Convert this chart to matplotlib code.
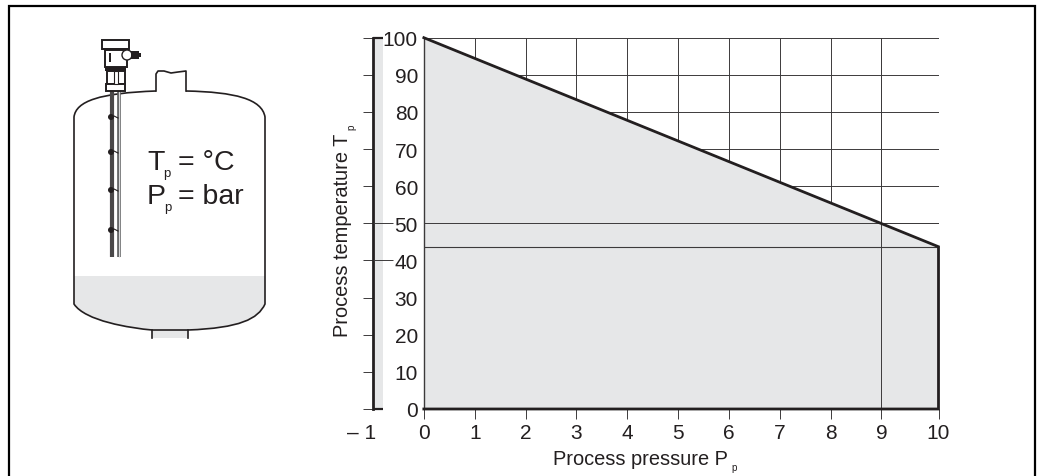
#!/usr/bin/env python
# -*- coding: utf-8 -*-

import matplotlib
matplotlib.use('Agg')
import matplotlib.pyplot as plt
from matplotlib.patches import PathPatch, Rectangle, Circle
from matplotlib.path import Path
from matplotlib.transforms import ScaledTranslation
import numpy as np

plt.rcParams['font.family'] = ['Liberation Sans', 'DejaVu Sans']

W, H = 1047, 477
DARK = '#231f20'
THIN = '#3c3a3b'
GREY = '#e6e7e8'

''' Chart values '''
pressure_ticks = [-1, 0, 1, 2, 3, 4, 5, 6, 7, 8, 9, 10]
pressure_labels = ['\u2013 1', '0', '1', '2', '3', '4', '5', '6', '7', '8', '9', '10']
temp_ticks = [0, 10, 20, 30, 40, 50, 60, 70, 80, 90, 100]
limit_p = [0, 10]
limit_t = [100, 43.7]
example_p = 9
example_t = 50

fig = plt.figure(figsize=(W / 100, H / 100), dpi=100)

''' Illustration layer in pixel coordinates '''
bg = fig.add_axes([0, 0, 1, 1])
bg.set_xlim(0, W)
bg.set_ylim(H, 0)
bg.axis('off')

bg.plot([9, 9, 1035, 1035], [H, 7, 7, H], color='black', lw=1.6, solid_joinstyle='miter')

# liquid
liq = [(74, 277), (265, 277), (265, 305), (258, 320), (240, 329), (188, 331),
       (152, 331), (130, 329), (85, 322), (74, 305), (74, 277)]
liq_codes = [Path.MOVETO, Path.LINETO, Path.LINETO, Path.CURVE4, Path.CURVE4, Path.CURVE4,
             Path.LINETO, Path.CURVE4, Path.CURVE4, Path.CURVE4, Path.CLOSEPOLY]
bg.add_patch(PathPatch(Path(liq, liq_codes), fc=GREY, ec='none'))
bg.add_patch(Rectangle((152, 331), 36, 8, fc=GREY, ec='none'))

# tank outline
tank = [(186, 92), (235, 93), (262, 100), (265, 118), (265, 305), (258, 320), (240, 329), (188, 331),
        (152, 331), (130, 329), (85, 322), (74, 305), (74, 118), (76, 102), (100, 94), (156, 92)]
tank_codes = [Path.MOVETO, Path.CURVE4, Path.CURVE4, Path.CURVE4, Path.LINETO, Path.CURVE4, Path.CURVE4, Path.CURVE4,
              Path.LINETO, Path.CURVE4, Path.CURVE4, Path.CURVE4, Path.LINETO, Path.CURVE4, Path.CURVE4, Path.CURVE4]
bg.add_patch(PathPatch(Path(tank, tank_codes), fc='none', ec=DARK, lw=1.2))
bg.plot([152, 152], [331, 339], color=DARK, lw=1.2)
bg.plot([188, 188], [331, 339], color=DARK, lw=1.2)

# top nozzle with broken edge
nozzle = [(156, 92), (156, 75), (158, 72), (164, 72), (171, 74), (178, 73), (186, 72), (186, 92)]
bg.plot(*zip(*nozzle), color=DARK, lw=1.2)

# instrument head
bg.add_patch(Rectangle((102, 41), 27, 9, fc='white', ec=DARK, lw=1.4, zorder=3))
bg.add_patch(Rectangle((102, 49), 27, 2, fc=DARK, ec='none', zorder=4))
bg.add_patch(Rectangle((105, 51), 22, 17, fc='white', ec=DARK, lw=1.4, zorder=3))
bg.add_patch(Rectangle((109, 54), 2, 9, fc=DARK, ec='none', zorder=4))
bg.add_patch(Rectangle((105, 68), 21, 4, fc=DARK, ec='none', zorder=3))
bg.add_patch(Rectangle((107, 72), 18, 13, fc='white', ec=DARK, lw=1.4, zorder=3))
bg.add_patch(Rectangle((114, 72), 4, 13, fc='white', ec=DARK, lw=0.8, zorder=4))
bg.add_patch(Rectangle((106, 85), 19, 7, fc='white', ec=DARK, lw=1.4, zorder=3))
bg.add_patch(Circle((127, 56), 5, fc='white', ec=DARK, lw=1.0, zorder=4))
bg.add_patch(Rectangle((131, 52), 8, 8, fc=DARK, ec='none', zorder=4))
bg.add_patch(Rectangle((138, 54), 3, 4, fc=DARK, ec='none', zorder=4))

# probe rods
bg.plot([112, 112], [92, 258], color='#4a4849', lw=3.0, solid_capstyle='butt')
bg.plot([119, 119], [92, 258], color='#58595b', lw=2.6, solid_capstyle='butt')
bg.plot([119, 119], [92, 258], color='#d8d9da', lw=0.9, solid_capstyle='butt')
for wy in [118, 153, 191, 231]:
    bg.add_patch(Circle((111, wy), 3, fc=DARK, ec='none', zorder=4))
    bg.plot([114, 118], [wy - 1, wy + 1], color=DARK, lw=0.8)

# tank captions
bg.text(147, 170, 'T', fontsize=20.5, color=DARK, ha='left', va='baseline')
bg.text(163, 177, 'p', fontsize=9.5, color=DARK, ha='left', va='baseline')
bg.text(178, 170, '= \u00b0C', fontsize=20.5, color=DARK, ha='left', va='baseline')
bg.text(147, 204, 'P', fontsize=20.5, color=DARK, ha='left', va='baseline')
bg.text(164, 211, 'p', fontsize=9.5, color=DARK, ha='left', va='baseline')
bg.text(178, 204, '= bar', fontsize=20.5, color=DARK, ha='left', va='baseline')

''' Diagram '''
x0, x1, y0, y1 = 373, 938.5, 410, 38.7
ax = fig.add_axes([x0 / W, 1 - y0 / H, (x1 - x0) / W, (y0 - y1) / H])
ax.patch.set_alpha(0)

# last interval of the printed scale is wider than the others
stretch = 57 / 50.8
ax.set_xscale('function', functions=(
    lambda v: np.where(np.asarray(v) <= 9, v, 9 + (np.asarray(v) - 9) * stretch),
    lambda v: np.where(np.asarray(v) <= 9, v, 9 + (np.asarray(v) - 9) / stretch)))
ax.set_xlim(-1, 10)
ax.set_ylim(0, 100)

for s in ['top', 'right', 'bottom']:
    ax.spines[s].set_visible(False)
ax.spines['left'].set_linewidth(2.0)
ax.spines['left'].set_color(DARK)

# grid, only the upper part stays visible
ax.hlines(temp_ticks, 0, 10, color=THIN, lw=0.7, zorder=1)
ax.vlines(pressure_ticks[1:], 0, 100, color=THIN, lw=0.7, zorder=1)

ax.fill_between(limit_p, limit_t, 0, color=GREY, lw=0, zorder=2)
ax.axvspan(-1, -0.8, color=GREY, lw=0, zorder=1)

ax.hlines([example_t], 0, 10, color=THIN, lw=0.7, zorder=3)
ax.hlines([limit_t[1]], 0, 10, color=THIN, lw=0.8, zorder=3)
ax.vlines([example_p], 0, 100, color=THIN, lw=0.7, zorder=3)
ax.vlines([0], 0, 100, color=THIN, lw=1.0, zorder=3)
ax.hlines([40, 50], -1, -0.61, color=THIN, lw=0.7, zorder=3)

# limit outline
ax.plot(limit_p + [10, 0], limit_t + [0, 0], color=DARK, lw=2.0, zorder=4, clip_on=False,
        solid_joinstyle='miter')
ax.hlines([0, 100], -1, -0.8, color=DARK, lw=1.6, zorder=4, clip_on=False)

ax.set_xticks(pressure_ticks)
ax.set_xticklabels(pressure_labels)
ax.set_yticks(temp_ticks)
ax.minorticks_off()
ax.tick_params(axis='x', length=7.2, width=0.7, color=THIN, pad=3, labelsize=15, labelcolor=DARK)
ax.tick_params(axis='y', length=7.2, width=0.7, color=THIN, pad=-39.6, labelsize=15, labelcolor=DARK)
ax.get_xticklines()[0].set_visible(False)
first = ax.get_xticklabels()[0]
first.set_ha('right')
first.set_transform(first.get_transform() + ScaledTranslation(2 / 72, 0, fig.dpi_scale_trans))

''' Axis captions '''
bg.text(553, 465, 'Process pressure P', fontsize=14.4, color=DARK, ha='left', va='baseline')
bg.text(731, 471, 'p', fontsize=7, color=DARK, ha='left', va='baseline')
bg.text(348, 337, 'Process temperature T', fontsize=14.4, color=DARK, rotation=90,
        ha='left', va='baseline', rotation_mode='anchor')
bg.text(354, 130, 'p', fontsize=7, color=DARK, rotation=90, ha='left', va='baseline', rotation_mode='anchor')

fig.savefig('out.png', dpi=100)
